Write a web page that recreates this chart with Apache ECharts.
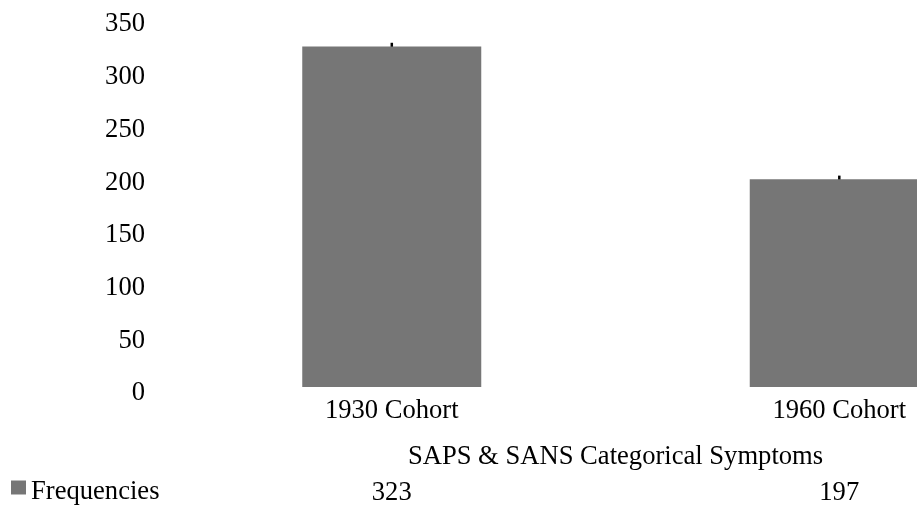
<!DOCTYPE html>
<html>
<head>
<meta charset="utf-8">
<script src="https://cdn.jsdelivr.net/npm/echarts@6/dist/echarts.min.js"></script>
<style>
  html, body { margin: 0; padding: 0; background: #fff; }
  #chart { width: 917px; height: 505px; }
</style>
</head>
<body>
<div id="chart"></div>
<script>
// data
var categories = ["1930 Cohort", "1960 Cohort"];
var frequencies = [323, 197];
var errors = [3.5, 3.5];
var yTicks = [0, 50, 100, 150, 200, 250, 300, 350];

var font = "Liberation Serif";
var fontSize = 26.6;
var barColor = "#767676";

var myChart = echarts.init(document.getElementById("chart"));

var errorData = frequencies.map(function (v, i) {
  return [i, v, errors[i]];
});

var option = {
  animation: false,
  textStyle: { fontFamily: font },
  legend: {
    left: 6,
    top: 474,
    icon: "rect",
    itemWidth: 15,
    itemHeight: 14,
    itemGap: 4,
    data: ["Frequencies"],
    formatter: "{a|{name}}",
    textStyle: {
      rich: {
        a: { fontFamily: font, fontSize: fontSize, color: "#000", padding: [10, 0, 0, 0] },
      },
    },
  },
  // plot area runs past the right edge, the reference is cropped there
  grid: { left: 168, width: 895, top: 18, bottom: 118, outerBoundsMode: "none" },
  xAxis: [
    {
      type: "category",
      data: categories,
      name: "SAPS & SANS Categorical Symptoms",
      nameLocation: "middle",
      nameGap: 57,
      nameTextStyle: { fontFamily: font, fontSize: fontSize, color: "#000" },
      axisLine: { show: false },
      axisTick: { show: false },
      axisLabel: { fontFamily: font, fontSize: fontSize, color: "#000", margin: 11 },
    },
    {
      // data table row under the axis title
      type: "category",
      position: "bottom",
      offset: 82,
      data: frequencies.map(String),
      axisLine: { show: false },
      axisTick: { show: false },
      axisLabel: { fontFamily: font, fontSize: fontSize, color: "#000", margin: 11 },
    },
  ],
  yAxis: {
    type: "value",
    min: yTicks[0],
    max: yTicks[yTicks.length - 1],
    interval: 50,
    splitLine: { show: false },
    axisLine: { show: false },
    axisTick: { show: false },
    axisLabel: {
      margin: 23,
      formatter: "{a|{value}}",
      rich: {
        a: { fontFamily: font, fontSize: fontSize, color: "#000", padding: [13, 0, 0, 0] },
      },
    },
  },
  series: [
    {
      name: "Frequencies",
      type: "bar",
      barWidth: "40%",
      data: frequencies,
      itemStyle: { color: barColor },
      z: 3,
    },
    {
      name: "error",
      type: "custom",
      data: errorData,
      z: 2,
      renderItem: function (params, api) {
        var hi = api.coord([api.value(0), api.value(1) + api.value(2)]);
        var lo = api.coord([api.value(0), api.value(1) - api.value(2)]);
        return {
          type: "rect",
          shape: { x: hi[0] - 1.2, y: hi[1], width: 2.5, height: lo[1] - hi[1] },
          style: { fill: "#000" },
        };
      },
    },
  ],
};

myChart.setOption(option);
</script>
</body>
</html>
